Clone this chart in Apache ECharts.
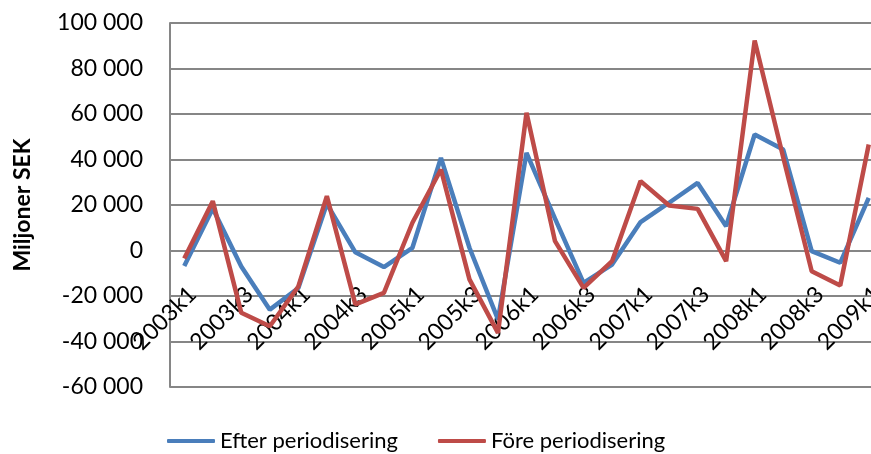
<!DOCTYPE html>
<html>
<head>
<meta charset="utf-8">
<script src="https://cdn.jsdelivr.net/npm/echarts@6/dist/echarts.min.js"></script>
<style>
  html, body { margin: 0; padding: 0; background: #fff; }
  #chart { width: 871px; height: 454px; }
</style>
</head>
<body>
<div id="chart"></div>
<script>
// kvartal 2003k1 - 2009k1
var kvartal = ['2003k1', '2003k2', '2003k3', '2003k4', '2004k1', '2004k2', '2004k3', '2004k4',
	'2005k1', '2005k2', '2005k3', '2005k4', '2006k1', '2006k2', '2006k3', '2006k4',
	'2007k1', '2007k2', '2007k3', '2007k4', '2008k1', '2008k2', '2008k3', '2008k4', '2009k1'];

var efter = [-6800, 18500, -7000, -26000, -16500, 20500, -800, -7300, 1200, 40700, 1200, -30300,
	42900, 14000, -14200, -6200, 12500, 21000, 29700, 10700, 51000, 44400, -300, -5400, 23100];

var fore = [-3500, 21700, -27400, -33300, -15800, 23900, -23700, -18600, 12200, 35600, -12700, -36200,
	60500, 4100, -16400, -4700, 30500, 19800, 18300, -4700, 92300, 41000, -9100, -15400, 46600];

var yTicks = { min: -60000, max: 100000, interval: 20000 };

// tusentalsavgränsare med mellanslag
function fmt(v) {
	var s = String(Math.abs(v)).replace(/\B(?=(\d{3})+(?!\d))/g, ' ');
	return (v < 0 ? '-' : '') + s;
}

var grid = { left: 170, right: -12, top: 23, bottom: 67 };
var chartH = 454;
// x-axeln ligger vid 0, flytta upp den från nederkanten
var plotH = chartH - grid.top - grid.bottom;
var zeroOffset = -plotH * (0 - yTicks.min) / (yTicks.max - yTicks.min);

var font = 'Lato, "Open Sans", sans-serif';
var myChart = echarts.init(document.getElementById('chart'));
myChart.setOption({
	animation: false,
	grid: { left: grid.left, right: grid.right, top: grid.top, bottom: grid.bottom, containLabel: false, outerBoundsMode: 'none' },
	legend: {
		bottom: -3,
		left: 162,
		icon: 'roundRect',
		itemWidth: 48,
		itemHeight: 4,
		itemGap: 40,
		textStyle: { fontFamily: font, fontSize: 22, color: '#000' },
		data: ['Efter periodisering', 'Före periodisering']
	},
	xAxis: {
		type: 'category',
		data: kvartal,
		boundaryGap: true,
		offset: zeroOffset,
		axisLine: { onZero: false, lineStyle: { color: '#868686', width: 2 } },
		axisTick: { show: false },
		axisLabel: {
			interval: 1,
			rotate: 45,
			align: 'right',
			verticalAlign: 'top',
			margin: 32,
			fontFamily: font,
			fontSize: 23,
			color: '#000'
		}
	},
	yAxis: {
		type: 'value',
		min: yTicks.min,
		max: yTicks.max,
		interval: yTicks.interval,
		name: 'Miljoner SEK',
		nameLocation: 'middle',
		nameGap: 136,
		nameTextStyle: { fontFamily: font, fontSize: 23, fontWeight: 'bold', color: '#000' },
		axisLine: { show: true, lineStyle: { color: '#868686', width: 2 } },
		axisTick: { show: false },
		splitLine: { lineStyle: { color: '#868686', width: 2 } },
		axisLabel: {
			margin: 27,
			fontFamily: font,
			fontSize: 23,
			color: '#000',
			formatter: fmt
		}
	},
	series: [{
		name: 'Efter periodisering',
		type: 'line',
		data: efter,
		symbol: 'none',
		lineStyle: { color: '#4a7ebb', width: 4.5 },
		itemStyle: { color: '#4a7ebb' }
	}, {
		name: 'Före periodisering',
		type: 'line',
		data: fore,
		symbol: 'none',
		lineStyle: { color: '#be4b48', width: 4.5 },
		itemStyle: { color: '#be4b48' }
	}]
});
</script>
</body>
</html>
